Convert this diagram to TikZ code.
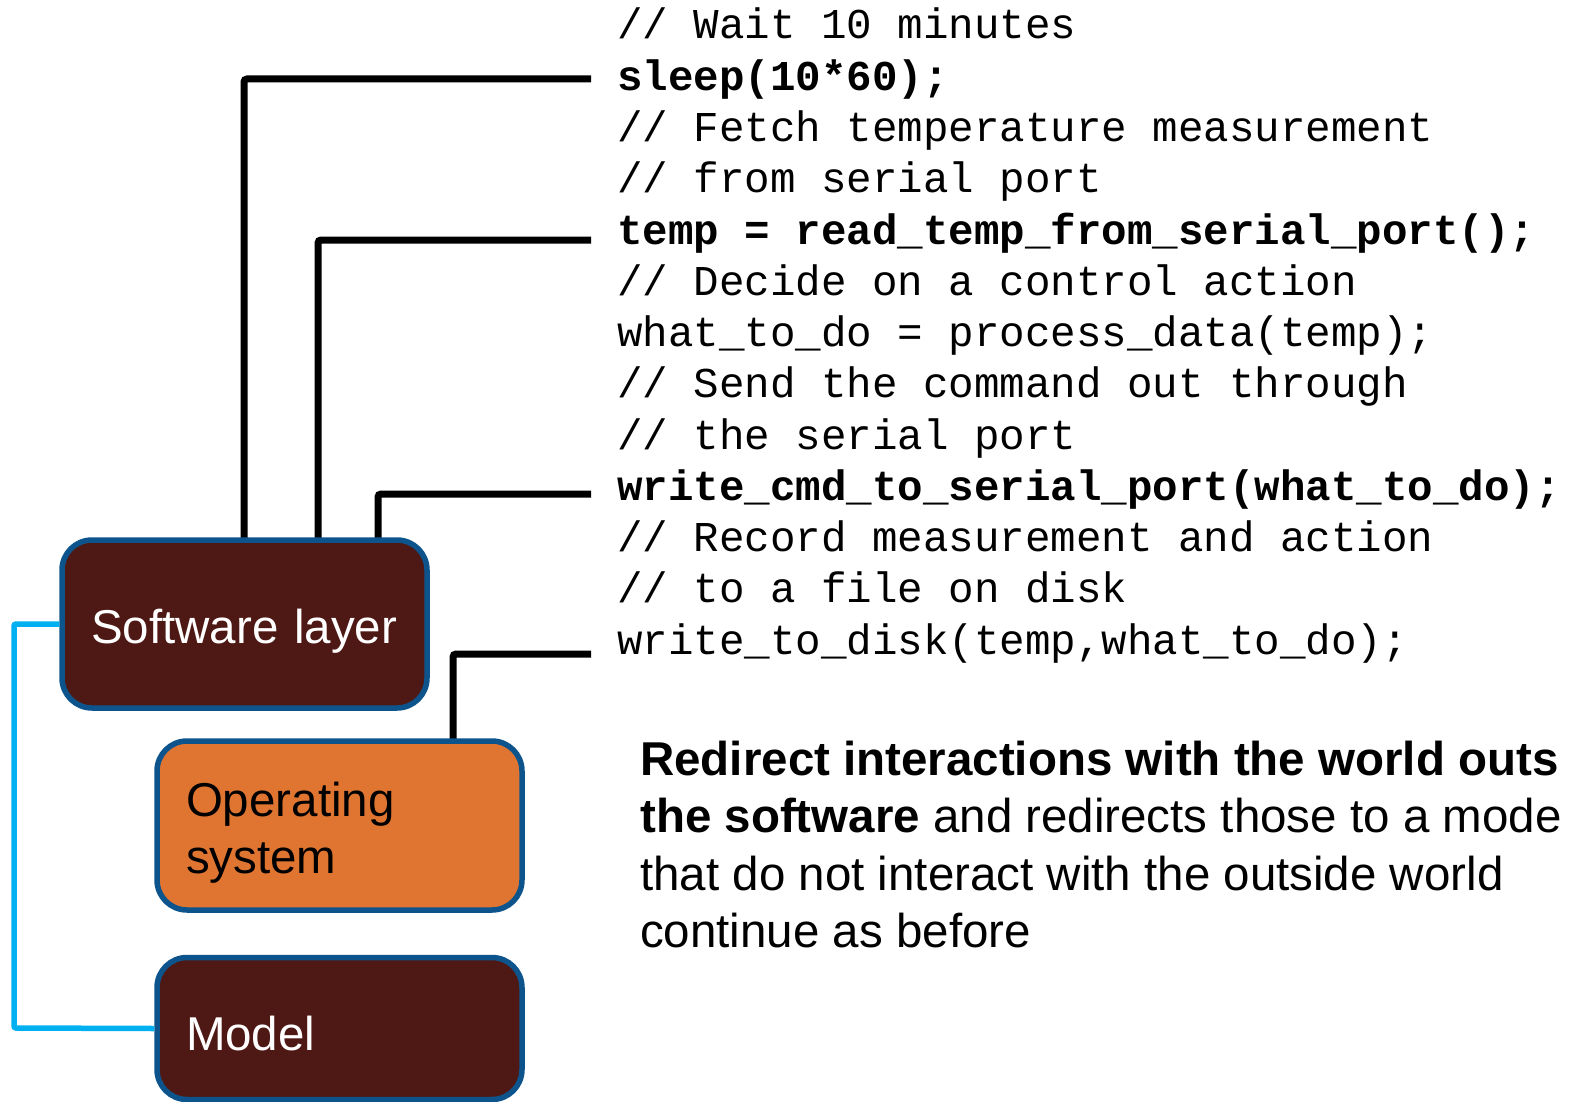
\documentclass[tikz,border=0pt]{standalone}
\usepackage{fontspec}
\setmainfont{Liberation Sans}
\newfontfamily\codefont{Liberation Mono}
\definecolor{boxborder}{RGB}{14,84,140}
\definecolor{brownfill}{RGB}{78,25,21}
\definecolor{orangefill}{RGB}{223,117,48}
\definecolor{cyanline}{RGB}{0,176,240}
\newcommand\lowertext[2]{\raisebox{-#1pt}[\height][\depth]{#2}}
\begin{document}
\begin{tikzpicture}[x=1pt,y=-1pt,
  layerbox/.style={draw=boxborder,line width=5.5pt,rounded corners=30pt,
    minimum width=365pt,inner xsep=29pt,text width=307pt,align=left,
    font=\fontsize{47.5}{57}\selectfont},
  codeline/.style={anchor=base west,inner sep=0pt,font=\codefont\fontsize{42.5}{51.25}\selectfont},
  codebold/.style={codeline,font=\codefont\bfseries\fontsize{42.5}{51.25}\selectfont},
  paraline/.style={anchor=base west,inner sep=0pt,font=\fontsize{47.5}{57.5}\selectfont},
  link/.style={draw=black,line width=7pt,rounded corners=3pt},
  bluelink/.style={draw=cyanline,line width=5.5pt,rounded corners=2pt}]
\useasboundingbox (0,0) rectangle (1571,1102);
\fill[white] (0,0) rectangle (1571,1102);

% code lines
\node[codeline] (l1)  at (617,39)    {// Wait 10 minutes};
\node[codebold] (l2)  at (617,90.25) {sleep(10*60);};
\node[codeline] (l3)  at (617,141.5) {// Fetch temperature measurement};
\node[codeline] (l4)  at (617,192.75){// from serial port};
\node[codebold] (l5)  at (617,244)   {temp = read\_temp\_from\_serial\_port();};
\node[codeline] (l6)  at (617,295.25){// Decide on a control action};
\node[codeline] (l7)  at (617,346.5) {what\_to\_do = process\_data(temp);};
\node[codeline] (l8)  at (617,397.75){// Send the command out through};
\node[codeline] (l9)  at (617,449)   {// the serial port};
\node[codebold] (l10) at (617,500.25){write\_cmd\_to\_serial\_port(what\_to\_do);};
\node[codeline] (l11) at (617,551.5) {// Record measurement and action};
\node[codeline] (l12) at (617,602.75){// to a file on disk};
\node[codeline] (l13) at (617,654)   {write\_to\_disk(temp,what\_to\_do);};

% connector end points
\coordinate (e1) at (591,79);
\coordinate (e2) at (591,240);
\coordinate (e3) at (591,494);
\coordinate (e4) at (591,654);
\coordinate (v1) at (244,0);
\coordinate (v2) at (318,0);
\coordinate (v3) at (378,0);
\coordinate (v4) at (453,0);
\coordinate (bl) at (14,1028);

% connectors (behind boxes)
\draw[link] (v1 |- 0,560) |- (e1);
\draw[link] (v2 |- 0,560) |- (e2);
\draw[link] (v3 |- 0,560) |- (e3);
\draw[link] (v4 |- 0,760) |- (e4);

% boxes
\node[layerbox,fill=brownfill,text=white,minimum height=168pt] (sw) at (244.5,624) {\lowertext{7}{Software layer}};
\node[layerbox,fill=orangefill,text=black,minimum height=169pt] (os) at (339.5,825.5) {\lowertext{7}{Operating}\\\lowertext{7}{system}};
\node[layerbox,fill=brownfill,text=white,minimum height=142pt] (model) at (339.5,1028.5) {\lowertext{5}{Model}};

% blue connector
\draw[bluelink] (sw.west) -| (bl) -- (model.west);

% paragraph
\node[paraline] (p1) at (640,775)   {\bfseries Redirect interactions with the world outs};
\node[paraline] (p2) at (640,832.5) {\textbf{the software} and redirects those to a mode};
\node[paraline] (p3) at (640,890)   {that do not interact with the outside world};
\node[paraline] (p4) at (640,947.5) {continue as before};
\end{tikzpicture}
\end{document}
